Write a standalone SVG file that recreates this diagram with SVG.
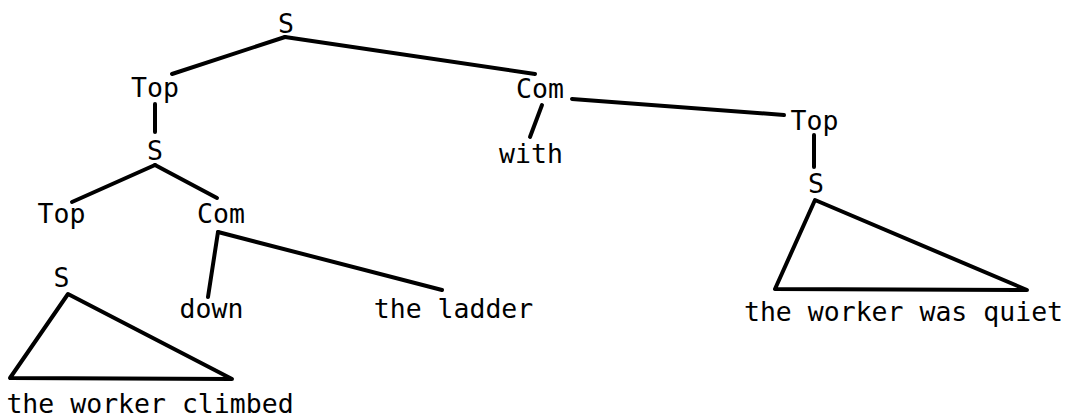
<svg xmlns="http://www.w3.org/2000/svg" width="1077" height="417" viewBox="0 0 1077 417">
<style>
  text { font-family: "DejaVu Sans Mono", "Liberation Mono", monospace; font-size: 26.5px; fill: #000; text-anchor: middle; }
  .edge { stroke: #000; stroke-width: 4; stroke-linecap: round; stroke-linejoin: round; fill: none; }
</style>
<rect width="1077" height="417" fill="#fff"/>
<g id="connectors">
  <line class="edge" x1="285" y1="37" x2="172" y2="74"/>
  <line class="edge" x1="285" y1="37" x2="535" y2="74"/>
  <line class="edge" x1="155" y1="104" x2="155" y2="132"/>
  <line class="edge" x1="155" y1="165" x2="72" y2="202"/>
  <line class="edge" x1="155" y1="165" x2="217" y2="198"/>
  <line class="edge" x1="218" y1="232" x2="208" y2="297"/>
  <line class="edge" x1="218" y1="232" x2="442" y2="290"/>
  <polygon class="edge" points="68,294 10,378 232,379"/>
  <line class="edge" x1="542" y1="105" x2="530" y2="137"/>
  <line class="edge" x1="572" y1="99" x2="784" y2="115"/>
  <line class="edge" x1="814" y1="135" x2="814" y2="167"/>
  <polygon class="edge" points="815,200 775,289 1027,290"/>
</g>
<g id="n-s-root"><text x="286" y="33">S</text></g>
<g id="n-top1"><text x="155" y="97">Top</text></g>
<g id="n-s2"><text x="155" y="160">S</text></g>
<g id="n-top3"><text x="61.5" y="223">Top</text></g>
<g id="n-com3"><text x="221" y="223">Com</text></g>
<g id="n-s4"><text x="61.5" y="287">S</text></g>
<g id="n-down"><text x="211.5" y="318">down</text></g>
<g id="n-ladder"><text x="453.5" y="318">the ladder</text></g>
<g id="n-climbed"><text x="150" y="413">the worker climbed</text></g>
<g id="n-com-r"><text x="540" y="98">Com</text></g>
<g id="n-with"><text x="531" y="163">with</text></g>
<g id="n-top-r"><text x="814.5" y="130">Top</text></g>
<g id="n-s-r"><text x="816" y="193">S</text></g>
<g id="n-quiet"><text x="903.5" y="321">the worker was quiet</text></g>
</svg>
